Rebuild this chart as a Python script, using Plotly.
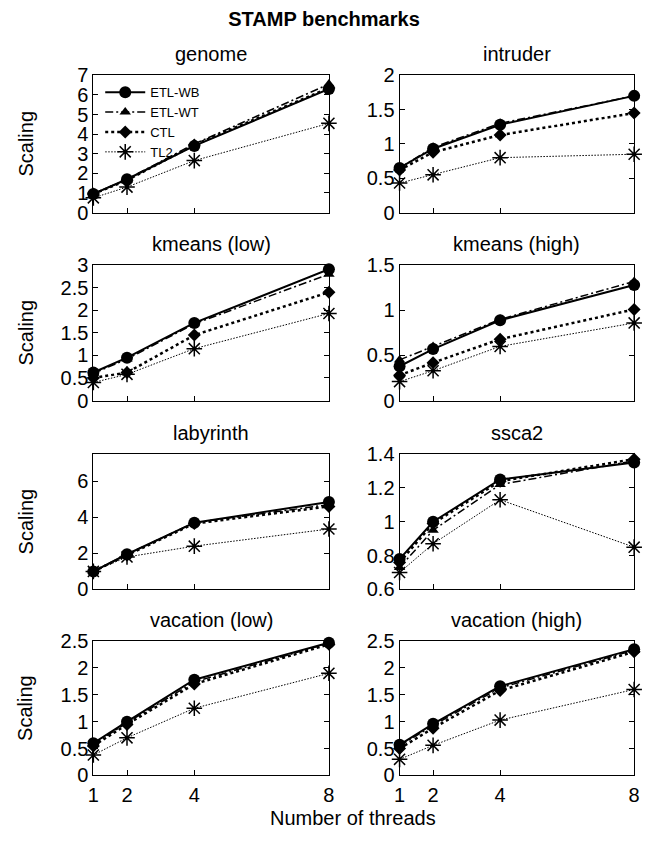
import plotly.graph_objects as go

# ---------------- data ----------------
threads = [1, 2, 4, 8]
series_names = ["ETL-WB", "ETL-WT", "CTL", "TL2"]
benchmark_titles = ["genome", "intruder", "kmeans (low)", "kmeans (high)",
                    "labyrinth", "ssca2", "vacation (low)", "vacation (high)"]

genome = {"ETL-WB": [0.95, 1.70, 3.40, 6.30],
          "ETL-WT": [0.95, 1.70, 3.50, 6.55],
          "CTL":    [0.95, 1.65, 3.45, 6.35],
          "TL2":    [0.75, 1.30, 2.65, 4.55]}
intruder = {"ETL-WB": [0.65, 0.93, 1.28, 1.70],
            "ETL-WT": [0.65, 0.95, 1.30, 1.70],
            "CTL":    [0.62, 0.88, 1.13, 1.45],
            "TL2":    [0.43, 0.55, 0.80, 0.85]}
kmeans_low = {"ETL-WB": [0.62, 0.95, 1.72, 2.91],
              "ETL-WT": [0.60, 0.92, 1.70, 2.80],
              "CTL":    [0.50, 0.62, 1.45, 2.40],
              "TL2":    [0.40, 0.58, 1.15, 1.93]}
kmeans_high = {"ETL-WB": [0.38, 0.57, 0.89, 1.28],
               "ETL-WT": [0.45, 0.60, 0.90, 1.32],
               "CTL":    [0.28, 0.42, 0.68, 1.01],
               "TL2":    [0.21, 0.33, 0.60, 0.86]}
labyrinth = {"ETL-WB": [1.00, 1.95, 3.70, 4.85],
             "ETL-WT": [1.00, 1.95, 3.70, 4.70],
             "CTL":    [1.00, 1.90, 3.65, 4.60],
             "TL2":    [1.00, 1.80, 2.40, 3.35]}
ssca2 = {"ETL-WB": [0.78, 1.00, 1.25, 1.35],
         "ETL-WT": [0.73, 0.95, 1.22, 1.36],
         "CTL":    [0.76, 0.99, 1.24, 1.37],
         "TL2":    [0.70, 0.87, 1.13, 0.85]}
vacation_low = {"ETL-WB": [0.60, 1.00, 1.78, 2.47],
                "ETL-WT": [0.58, 0.98, 1.74, 2.46],
                "CTL":    [0.55, 0.95, 1.70, 2.44],
                "TL2":    [0.38, 0.70, 1.25, 1.90]}
vacation_high = {"ETL-WB": [0.57, 0.96, 1.66, 2.35],
                 "ETL-WT": [0.55, 0.93, 1.63, 2.33],
                 "CTL":    [0.50, 0.88, 1.58, 2.30],
                 "TL2":    [0.30, 0.56, 1.03, 1.60]}

benchmark_data = [genome, intruder, kmeans_low, kmeans_high,
                  labyrinth, ssca2, vacation_low, vacation_high]

# ---------------- styling ----------------
W, H = 648, 841
FONT = "Liberation Sans, Arial, sans-serif"

y_ranges = [(0, 7, 1), (0, 2, 0.5), (0, 3, 0.5), (0, 1.5, 0.5),
            (0, 7.5, 2), (0.6, 1.4, 0.2), (0, 2.5, 0.5), (0, 2.5, 0.5)]

col_px = [(89, 329), (401, 640)]
row_px = [(66, 207), (261, 400), (455, 594), (647, 785)]

styles = {
    "ETL-WB": dict(line=dict(color="black", width=2, dash="solid"),
                   marker=dict(symbol="circle", size=12, color="black")),
    "ETL-WT": dict(line=dict(color="black", width=1.5, dash="8px,3px,2px,3px"),
                   marker=dict(symbol="triangle-up", size=10, color="black")),
    "CTL":    dict(line=dict(color="black", width=2.5, dash="3px,3px"),
                   marker=dict(symbol="diamond", size=10, color="black")),
    "TL2":    dict(line=dict(color="black", width=1, dash="1.5px,1.5px"),
                   marker=dict(symbol="asterisk-open", size=13, color="black",
                               line=dict(color="black", width=1.5))),
}

fig = go.Figure()
annotations = []

for i, (title, data) in enumerate(zip(benchmark_titles, benchmark_data)):
    r, c = divmod(i, 2)
    n = i + 1
    xa = "x" if n == 1 else f"x{n}"
    ya = "y" if n == 1 else f"y{n}"
    for name in series_names:
        st = styles[name]
        fig.add_trace(go.Scatter(
            x=threads, y=data[name], name=name, mode="lines+markers",
            line=st["line"], marker=st["marker"], xaxis=xa, yaxis=ya,
            cliponaxis=False, showlegend=(i == 0)))

    x0, x1 = col_px[c]
    yt, yb = row_px[r]
    ymin, ymax, dt = y_ranges[i]
    ticks = []
    v = ymin
    while v <= ymax + 1e-9:
        ticks.append(round(v, 3))
        v += dt
    xkey = "xaxis" if n == 1 else f"xaxis{n}"
    ykey = "yaxis" if n == 1 else f"yaxis{n}"
    fig.layout[xkey] = dict(
        domain=[x0 / W, x1 / W], anchor=ya, range=[1, 8],
        tickvals=threads, ticktext=[str(t) for t in threads],
        showticklabels=(r == 3), ticks="inside", ticklen=5, tickwidth=1,
        tickcolor="black", showline=True, linecolor="black", linewidth=1,
        mirror=True, showgrid=False, zeroline=False, ticklabelstandoff=2,
        tickfont=dict(size=20, color="black", family=FONT))
    fig.layout[ykey] = dict(
        domain=[1 - yb / H, 1 - yt / H], anchor=xa, range=[ymin, ymax],
        tickvals=ticks, ticks="inside", ticklen=5, tickwidth=1,
        tickcolor="black", showline=True, linecolor="black", linewidth=1,
        mirror="ticks", showgrid=False, zeroline=False,
        tickfont=dict(size=20, color="black", family=FONT))
    annotations.append(dict(
        text=title, x=(x0 + x1) / 2 / W, y=1 - (yt - 8) / H,
        xref="paper", yref="paper", xanchor="center", yanchor="bottom",
        showarrow=False, font=dict(size=20, color="black", family=FONT)))
    if c == 0:
        annotations.append(dict(
            text="Scaling", x=20 / W, y=1 - (yt + yb) / 2 / H,
            xref="paper", yref="paper", xanchor="center", yanchor="middle",
            textangle=-90, showarrow=False,
            font=dict(size=20, color="black", family=FONT)))

annotations.append(dict(
    text="Number of threads", x=354 / W, y=0,
    xref="paper", yref="paper", xanchor="center", yanchor="bottom",
    borderpad=0, showarrow=False, font=dict(size=20, color="black", family=FONT)))

fig.update_layout(
    width=W, height=H, margin=dict(l=0, r=0, t=0, b=0),
    paper_bgcolor="white", plot_bgcolor="white",
    title=dict(text="<b>STAMP benchmarks</b>", x=0.5, xanchor="center",
               y=1 - 19 / H, yanchor="middle",
               font=dict(size=20, color="black", family=FONT)),
    annotations=annotations,
    legend=dict(x=96 / W, y=1 - 68 / H, xanchor="left", yanchor="top",
                bgcolor="rgba(0,0,0,0)", font=dict(size=13, color="black", family=FONT),
                itemwidth=40, tracegroupgap=0),
    font=dict(family=FONT, color="black"),
)

fig.write_html("out.html")
